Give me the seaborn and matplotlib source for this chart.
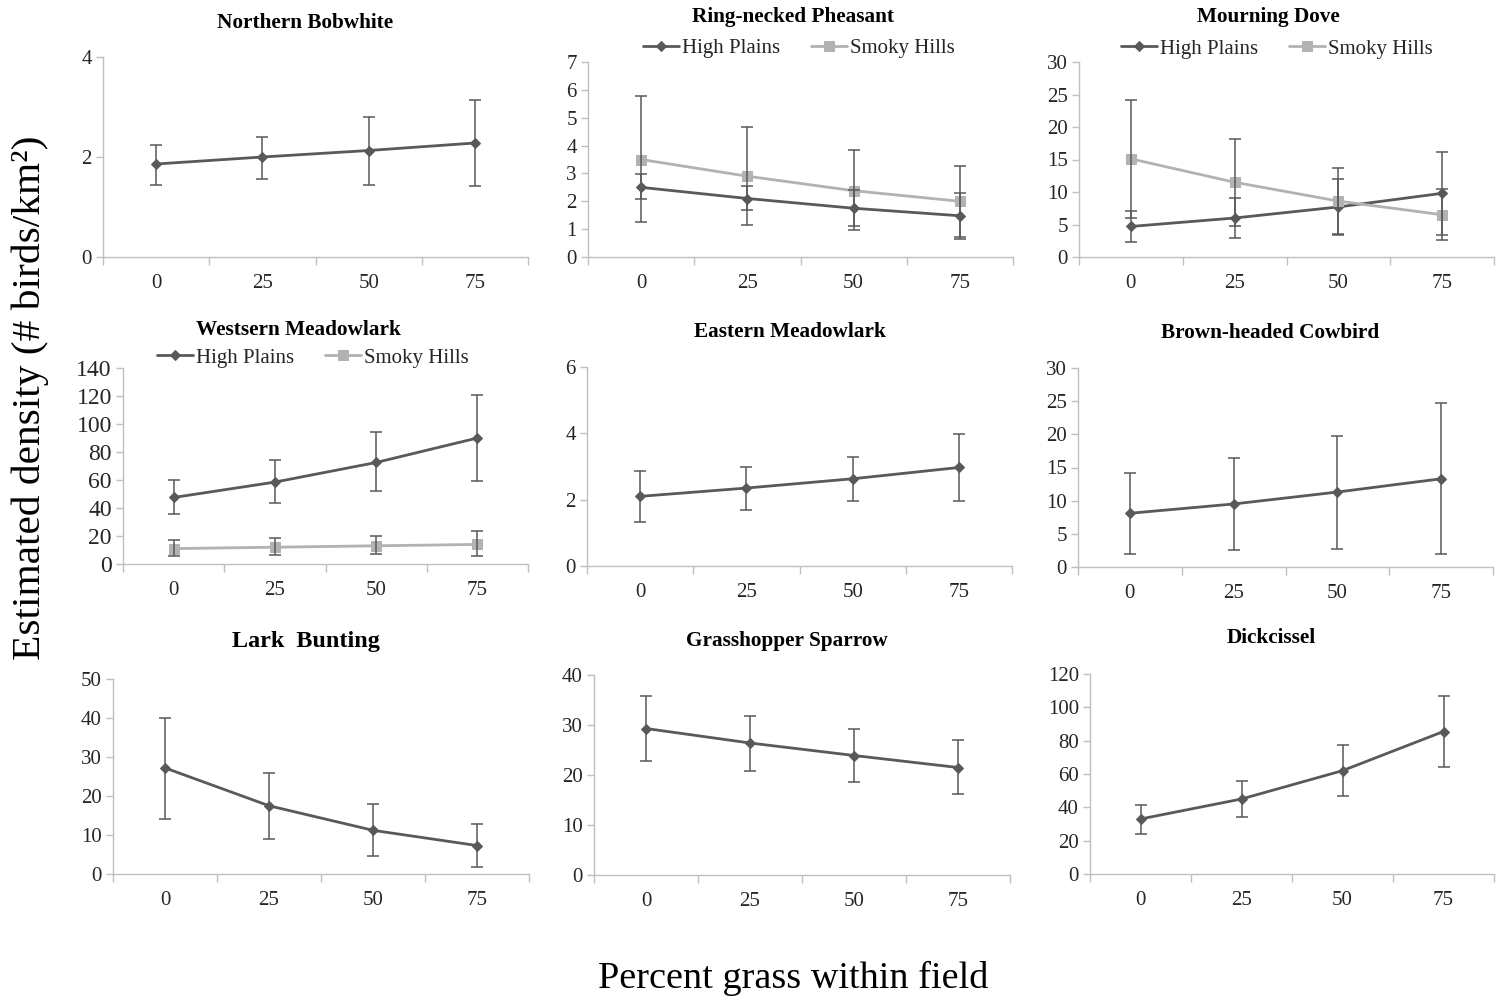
import numpy as np
import pandas as pd
import matplotlib
matplotlib.use("Agg")
import matplotlib.pyplot as plt
import seaborn as sns

sns.set_theme(style="white")
plt.rcParams["font.family"] = ["Liberation Serif", "DejaVu Serif"]

grass = ["0", "25", "50", "75"]

# Estimated density and CI bounds
bobwhite = [1.86, 2.00, 2.13, 2.28]
bobwhite_lo = [1.45, 1.57, 1.45, 1.42]
bobwhite_hi = [2.25, 2.40, 2.80, 3.15]

pheasant_hp = [2.50, 2.10, 1.75, 1.48]
pheasant_hp_lo = [2.07, 1.70, 1.10, 0.72]
pheasant_hp_hi = [2.97, 2.55, 2.40, 2.30]
pheasant_sh = [3.50, 2.90, 2.38, 2.00]
pheasant_sh_lo = [1.27, 1.15, 0.97, 0.65]
pheasant_sh_hi = [5.77, 4.67, 3.85, 3.28]

dove_hp = [4.7, 6.0, 7.7, 9.8]
dove_hp_lo = [2.3, 2.9, 3.4, 3.4]
dove_hp_hi = [7.1, 9.1, 12.0, 16.2]
dove_sh = [15.1, 11.5, 8.6, 6.5]
dove_sh_lo = [6.0, 4.8, 3.5, 2.6]
dove_sh_hi = [24.2, 18.2, 13.7, 10.4]

wmeadow_hp = [47.5, 58.5, 72.5, 90.0]
wmeadow_hp_lo = [36.0, 43.5, 52.0, 59.5]
wmeadow_hp_hi = [60.0, 74.0, 94.0, 121.0]
wmeadow_sh = [11.0, 12.0, 13.0, 14.0]
wmeadow_sh_lo = [5.5, 6.5, 7.0, 6.0]
wmeadow_sh_hi = [17.0, 18.5, 20.0, 23.5]

emeadow = [2.10, 2.35, 2.63, 2.97]
emeadow_lo = [1.32, 1.70, 1.97, 1.95]
emeadow_hi = [2.87, 3.00, 3.30, 3.97]

cowbird = [8.1, 9.5, 11.3, 13.3]
cowbird_lo = [2.0, 2.6, 2.7, 1.9]
cowbird_hi = [14.1, 16.4, 19.8, 24.7]

lark = [27.2, 17.5, 11.2, 7.3]
lark_lo = [14.2, 9.0, 4.5, 1.8]
lark_hi = [40.0, 26.0, 18.0, 12.7]

grasshopper = [29.3, 26.4, 23.9, 21.5]
grasshopper_lo = [22.9, 20.9, 18.6, 16.3]
grasshopper_hi = [35.8, 31.9, 29.2, 27.0]

dickcissel = [33.0, 45.0, 62.0, 85.5]
dickcissel_lo = [24.0, 34.5, 47.0, 64.0]
dickcissel_hi = [41.5, 56.0, 77.5, 107.0]

W, H = 1496, 1002
fig = plt.figure(figsize=(W / 100, H / 100), dpi=100)

DARK = "#595959"
LIGHT = "#b2b2b2"
AXIS = "#bfbfbf"
TXT = "#262626"


def make_ax(left, right, top, bottom):
    return fig.add_axes([left / W, 1 - bottom / H, (right - left) / W, (bottom - top) / H])


def add_series(ax, vals, lo, hi, label, color, marker, ms):
    df = pd.DataFrame({"x": np.arange(len(grass)), "y": vals})
    sns.lineplot(data=df, x="x", y="y", ax=ax, color=color, marker=marker,
                 markersize=ms, markeredgecolor=color, linewidth=2.0,
                 label=label, legend=False, zorder=3)
    v = np.array(vals)
    err = [v - np.array(lo), np.array(hi) - v]
    ax.errorbar(np.arange(len(grass)), v, yerr=err, fmt="none", ecolor=DARK,
                elinewidth=1.1, capsize=4.5, capthick=1.1, zorder=4)


def style(ax, title, ymax, step, title_x, title_y, title_size=15.3, ysize=15):
    ax.set_xlim(-0.5, 3.5)
    ax.set_ylim(0, ymax)
    ax.set_yticks(np.arange(0, ymax + step / 2, step))
    ax.set_yticklabels([f"{t:g}" for t in np.arange(0, ymax + step / 2, step)])
    ax.set_xticks([-0.5, 0.5, 1.5, 2.5, 3.5])
    ax.set_xticklabels([])
    ax.set_xticks(np.arange(4), minor=True)
    ax.set_xticklabels(grass, minor=True)
    ax.tick_params(axis="x", which="major", length=6, width=1, color=AXIS,
                   direction="out", bottom=True)
    ax.tick_params(axis="x", which="minor", length=0, pad=12,
                   labelsize=15, labelcolor=TXT)
    ax.tick_params(axis="y", length=5, width=1, color=AXIS, direction="out",
                   left=True, labelsize=ysize, labelcolor=TXT, pad=3)
    for s in ["top", "right"]:
        ax.spines[s].set_visible(False)
    for s in ["left", "bottom"]:
        ax.spines[s].set_color(AXIS)
        ax.spines[s].set_linewidth(1.0)
    ax.set_xlabel("")
    ax.set_ylabel("")
    ax.set_facecolor("none")
    fig.text(title_x / W, 1 - title_y / H, title, ha="center", va="center",
             fontsize=title_size, fontweight="bold", color="black")


def legend(ax, cx, cy):
    pos = ax.get_position()
    bx = (cx / W - pos.x0) / pos.width
    by = (1 - cy / H - pos.y0) / pos.height
    ax.legend(loc="center", bbox_to_anchor=(bx, by), ncol=2,
              frameon=False, fontsize=15, handlelength=1.7, handletextpad=0.15,
              columnspacing=1.5, borderaxespad=0, labelcolor=TXT)


# row 1
ax = make_ax(103, 528, 57, 257)
add_series(ax, bobwhite, bobwhite_lo, bobwhite_hi, "", DARK, "D", 5)
style(ax, "Northern Bobwhite", 4, 2, 305, 23)

ax = make_ax(588, 1013, 62, 257)
add_series(ax, pheasant_hp, pheasant_hp_lo, pheasant_hp_hi, "High Plains", DARK, "D", 5)
add_series(ax, pheasant_sh, pheasant_sh_lo, pheasant_sh_hi, "Smoky Hills", LIGHT, "s", 7)
style(ax, "Ring-necked Pheasant", 7, 1, 793, 17)
legend(ax, 799, 48)

ax = make_ax(1079, 1494, 62, 257)
add_series(ax, dove_hp, dove_hp_lo, dove_hp_hi, "High Plains", DARK, "D", 5)
add_series(ax, dove_sh, dove_sh_lo, dove_sh_hi, "Smoky Hills", LIGHT, "s", 7)
style(ax, "Mourning Dove", 30, 5, 1268, 17)
legend(ax, 1277, 49)

# row 2
ax = make_ax(123, 528, 368, 564)
add_series(ax, wmeadow_hp, wmeadow_hp_lo, wmeadow_hp_hi, "High Plains", DARK, "D", 5)
add_series(ax, wmeadow_sh, wmeadow_sh_lo, wmeadow_sh_hi, "Smoky Hills", LIGHT, "s", 7)
style(ax, "Westsern Meadowlark", 140, 20, 298, 330, ysize=17)
legend(ax, 313, 358)

ax = make_ax(587, 1012, 367, 566)
add_series(ax, emeadow, emeadow_lo, emeadow_hi, "", DARK, "D", 5)
style(ax, "Eastern Meadowlark", 6, 2, 790, 332)

ax = make_ax(1078, 1493, 368, 567)
add_series(ax, cowbird, cowbird_lo, cowbird_hi, "", DARK, "D", 5)
style(ax, "Brown-headed Cowbird", 30, 5, 1270, 333)

# row 3
ax = make_ax(113, 529, 679, 874)
add_series(ax, lark, lark_lo, lark_hi, "", DARK, "D", 5)
style(ax, "Lark  Bunting", 50, 10, 306, 642, title_size=17.4)

ax = make_ax(594, 1010, 675, 875)
add_series(ax, grasshopper, grasshopper_lo, grasshopper_hi, "", DARK, "D", 5)
style(ax, "Grasshopper Sparrow", 40, 10, 787, 641)

ax = make_ax(1090, 1494, 674, 874)
add_series(ax, dickcissel, dickcissel_lo, dickcissel_hi, "", DARK, "D", 5)
style(ax, "Dickcissel", 120, 20, 1271, 638)

fig.text(30 / W, 1 - 398 / H, "Estimated density (# birds/km\u00b2)", rotation=90,
         ha="center", va="center", fontsize=29.8, color="black")
fig.text(793 / W, 1 - 978 / H, "Percent grass within field", ha="center",
         va="center", fontsize=27.5, color="black")

fig.savefig("out.png", dpi=100, facecolor="white")
